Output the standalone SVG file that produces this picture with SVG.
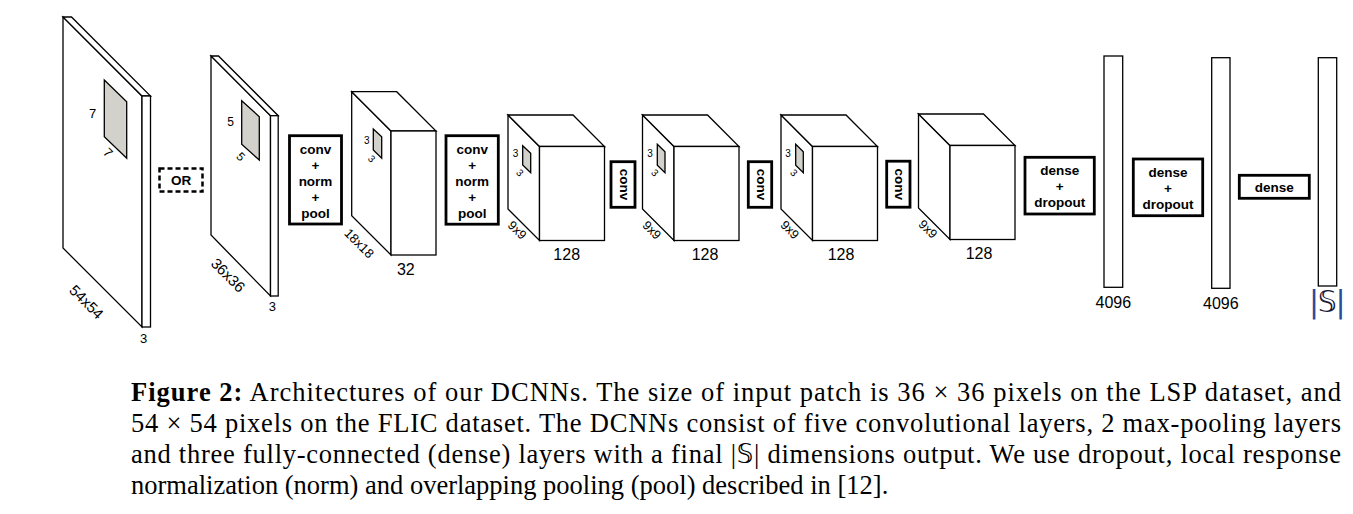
<svg xmlns="http://www.w3.org/2000/svg" width="1353" height="514" viewBox="0 0 1353 514">
<style>
.e{fill:#fff;stroke:#000;stroke-width:1.3;stroke-linejoin:miter}
.p{fill:#d3d1cb;stroke:#000;stroke-width:1.3}
.b{fill:#fff;stroke:#000;stroke-width:2.8}
.t{font-family:"Liberation Sans",Arial,sans-serif;fill:#000}
.bt{font-family:"Liberation Sans",Arial,sans-serif;font-weight:bold;font-size:13.5px;text-anchor:middle;fill:#000}
.s{font-size:10px}
.m{font-size:13px}
.n{font-size:16px;text-anchor:middle}
.cap{font-family:"Liberation Serif","Times New Roman",serif;font-size:26.5px;fill:#000}
</style>
<rect width="1353" height="514" fill="#fff"/>

<g id="input54">
<polygon class="e" points="63,17 142,96 142,327 63,248"/>
<polygon class="e" points="63,17 71.5,17 150.5,96 142,96"/>
<rect class="e" x="142" y="96" width="8.5" height="231"/>
<polygon class="p" points="104.3,80 126.7,101.7 126.7,158.3 104.3,136.7"/>
<text class="t m" x="92.7" y="117.5" text-anchor="middle">7</text>
<text class="t m" transform="translate(108,152.5) rotate(45)" text-anchor="middle" dominant-baseline="central">7</text>
<text class="t" font-size="15" transform="translate(86.7,301.7) rotate(45)" text-anchor="middle" dominant-baseline="central">54x54</text>
<text class="t m" x="143.7" y="343.3" text-anchor="middle">3</text>
</g>

<g id="or">
<rect x="159.5" y="168.5" width="43" height="23" fill="#fff" stroke="#000" stroke-width="2.5" stroke-dasharray="5,3"/>
<text class="bt" font-size="14" x="181" y="185">OR</text>
</g>

<g id="input36">
<polygon class="e" points="211,56 270.5,115.7 270.5,296 211,235"/>
<polygon class="e" points="211,56 218.5,56 278.2,115.7 270.5,115.7"/>
<rect class="e" x="270.5" y="115.7" width="7.7" height="180.3"/>
<polygon class="p" points="241.7,100.7 259.3,116.7 259.3,160 241.7,144.3"/>
<text class="t" font-size="12" x="230.7" y="126" text-anchor="middle">5</text>
<text class="t" font-size="12" transform="translate(240.8,156.7) rotate(45)" text-anchor="middle" dominant-baseline="central">5</text>
<text class="t" font-size="15" transform="translate(228.3,275) rotate(45)" text-anchor="middle" dominant-baseline="central">36x36</text>
<text class="t m" x="272.3" y="310.7" text-anchor="middle">3</text>
</g>

<g id="op1">
<rect class="b" x="289.5" y="135.7" width="52" height="88.3"/>
<text class="bt" x="315.5" y="153.5">conv</text>
<text class="bt" x="315.5" y="169.5">+</text>
<text class="bt" x="315.5" y="185.5">norm</text>
<text class="bt" x="315.5" y="201.5">+</text>
<text class="bt" x="315.5" y="217.5">pool</text>
</g>

<g id="layer1">
<polygon class="e" points="351.7,91.7 391,131 391,255 351.7,215.7"/>
<polygon class="e" points="351.7,91.7 396.7,91.7 436,131 391,131"/>
<rect class="e" x="391" y="131" width="45" height="124"/>
<polygon class="p" points="373.3,129 381.7,136.7 381.7,158.3 373.3,150"/>
<text class="t s" x="366.7" y="144.3" text-anchor="middle">3</text>
<text class="t s" transform="translate(371.7,158.8) rotate(45)" text-anchor="middle" dominant-baseline="central">3</text>
<text class="t m" transform="translate(359.2,243.3) rotate(45)" text-anchor="middle" dominant-baseline="central">18x18</text>
<text class="t n" x="405.8" y="275.3">32</text>
</g>

<g id="op2">
<rect class="b" x="446" y="135.7" width="52.3" height="88.5"/>
<text class="bt" x="472.2" y="153.5">conv</text>
<text class="bt" x="472.2" y="169.5">+</text>
<text class="bt" x="472.2" y="185.5">norm</text>
<text class="bt" x="472.2" y="201.5">+</text>
<text class="bt" x="472.2" y="217.5">pool</text>
</g>

<g id="layer2">
<polygon class="e" points="508,115 539.5,146.5 539.5,240.5 508,209"/>
<polygon class="e" points="508,115 573,115 604.5,146.5 539.5,146.5"/>
<rect class="e" x="539.5" y="146.5" width="65" height="94"/>
<polygon class="p" points="522.7,145.7 530.7,153.3 530.7,172.7 522.7,165"/>
<text class="t s" x="515.5" y="157" text-anchor="middle">3</text>
<text class="t s" transform="translate(520,172.8) rotate(45)" text-anchor="middle" dominant-baseline="central">3</text>
<text class="t" font-size="12.5" transform="translate(517,230.3) rotate(45)" text-anchor="middle" dominant-baseline="central">9x9</text>
<text class="t n" x="566.7" y="260">128</text>
</g>

<g id="op3">
<rect class="b" x="611" y="161.7" width="24" height="45.6"/>
<text class="bt" transform="translate(623,184.5) rotate(90)" x="0" y="3.5">conv</text>
</g>

<g id="layer3">
<polygon class="e" points="642.5,115 674,146.5 674,240.5 642.5,209"/>
<polygon class="e" points="642.5,115 707.5,115 739,146.5 674,146.5"/>
<rect class="e" x="674" y="146.5" width="65" height="94"/>
<polygon class="p" points="657.3,144.3 665,151.7 665,172.7 657.3,165.3"/>
<text class="t s" x="650" y="157" text-anchor="middle">3</text>
<text class="t s" transform="translate(655,172.8) rotate(45)" text-anchor="middle" dominant-baseline="central">3</text>
<text class="t" font-size="12.5" transform="translate(651.7,230.3) rotate(45)" text-anchor="middle" dominant-baseline="central">9x9</text>
<text class="t n" x="705" y="260">128</text>
</g>

<g id="op4">
<rect class="b" x="748.3" y="161.7" width="23.4" height="45.6"/>
<text class="bt" transform="translate(760,184.5) rotate(90)" x="0" y="3.5">conv</text>
</g>

<g id="layer4">
<polygon class="e" points="781,115 812.5,146.5 812.5,240.5 781,209"/>
<polygon class="e" points="781,115 846,115 877.5,146.5 812.5,146.5"/>
<rect class="e" x="812.5" y="146.5" width="65" height="94"/>
<polygon class="p" points="795.7,144.3 803.3,151.7 803.3,172.7 795.7,165.3"/>
<text class="t s" x="788" y="157" text-anchor="middle">3</text>
<text class="t s" transform="translate(794,172.8) rotate(45)" text-anchor="middle" dominant-baseline="central">3</text>
<text class="t" font-size="12.5" transform="translate(789.7,230) rotate(45)" text-anchor="middle" dominant-baseline="central">9x9</text>
<text class="t n" x="841" y="260">128</text>
</g>

<g id="op5">
<rect class="b" x="886.7" y="161.2" width="23.3" height="46"/>
<text class="bt" transform="translate(898.3,184.2) rotate(90)" x="0" y="3.5">conv</text>
</g>

<g id="layer5">
<polygon class="e" points="918.5,114 950,145.5 950,239.5 918.5,208"/>
<polygon class="e" points="918.5,114 983.5,114 1015,145.5 950,145.5"/>
<rect class="e" x="950" y="145.5" width="65" height="94"/>
<text class="t" font-size="12.5" transform="translate(927.8,229.3) rotate(45)" text-anchor="middle" dominant-baseline="central">9x9</text>
<text class="t n" x="979" y="259">128</text>
</g>

<g id="op6">
<rect class="b" x="1025" y="157.3" width="69.3" height="56.7"/>
<text class="bt" x="1059.7" y="175">dense</text>
<text class="bt" x="1059.7" y="191">+</text>
<text class="bt" x="1059.7" y="207">dropout</text>
</g>

<g id="fc1">
<rect class="e" x="1104" y="56" width="18.7" height="231.3"/>
<text class="t n" x="1113.3" y="308.3">4096</text>
</g>

<g id="op7">
<rect class="b" x="1133.3" y="159" width="69.4" height="56.7"/>
<text class="bt" x="1168" y="176.7">dense</text>
<text class="bt" x="1168" y="192.6">+</text>
<text class="bt" x="1168" y="208.5">dropout</text>
</g>

<g id="fc2">
<rect class="e" x="1211.7" y="57.7" width="18.3" height="230.6"/>
<text class="t n" x="1220.8" y="309">4096</text>
</g>

<g id="op8">
<rect class="b" x="1239.3" y="175.3" width="70" height="23"/>
<text class="bt" x="1274.3" y="191.7">dense</text>
</g>

<g id="out">
<rect class="e" x="1318.3" y="57.7" width="18.4" height="228.3"/>
<text y="312" font-family="'DejaVu Sans',sans-serif" font-size="30" text-anchor="middle" fill="#2b4a9e"><tspan x="1314">|</tspan><tspan x="1327.3" fill="#1a1a3a">𝕊</tspan><tspan x="1340.5">|</tspan></text>
</g>

<g id="connectors"></g>

<g id="caption">
<text class="cap" x="131" y="401" textLength="1210" lengthAdjust="spacing"><tspan font-weight="bold">Figure 2:</tspan>  Architectures of our DCNNs.  The size of input patch is 36 × 36 pixels on the LSP dataset, and</text>
<text class="cap" x="131" y="432" textLength="1210" lengthAdjust="spacing">54 × 54 pixels on the FLIC dataset.  The DCNNs consist of five convolutional layers, 2 max-pooling layers</text>
<text class="cap" x="131" y="463" textLength="1210" lengthAdjust="spacing">and three fully-connected (dense) layers with a final |<tspan font-family="'DejaVu Sans',sans-serif" font-size="26">𝕊</tspan>| dimensions output.  We use dropout, local response</text>
<text class="cap" x="131" y="494">normalization (norm) and overlapping pooling (pool) described in [12].</text>
</g>
</svg>
